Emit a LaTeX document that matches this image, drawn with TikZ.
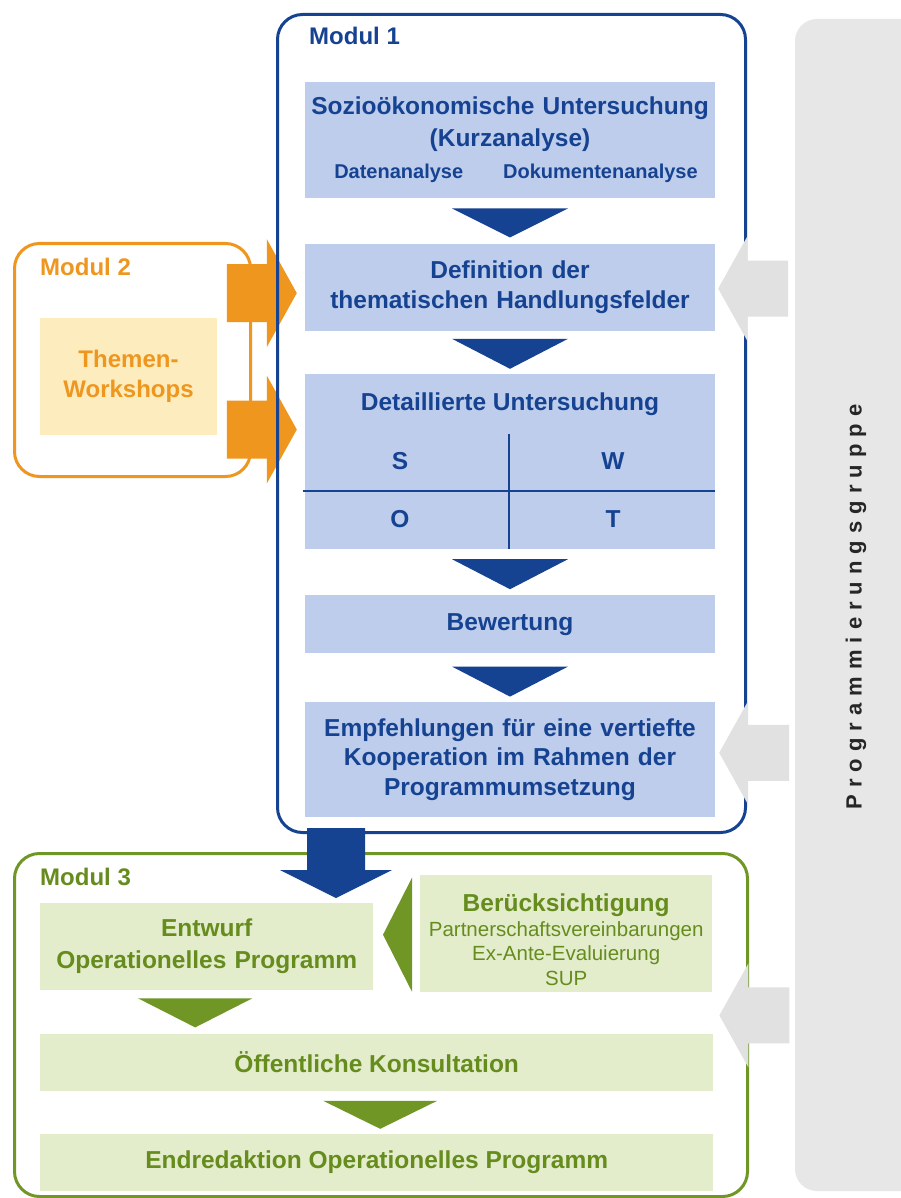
\documentclass[tikz,border=0pt]{standalone}
\usepackage{fontspec}
\setmainfont{Liberation Sans}
\usetikzlibrary{positioning, calc}
\definecolor{navy}{RGB}{22,66,146}
\definecolor{navysoft}{RGB}{190,205,235}
\definecolor{amber}{RGB}{238,150,30}
\definecolor{ambersoft}{RGB}{252,236,190}
\definecolor{leaf}{RGB}{112,150,38}
\definecolor{leafink}{RGB}{102,140,30}
\definecolor{leafsoft}{RGB}{227,237,203}
\definecolor{panelgray}{RGB}{231,231,231}
\definecolor{arrowgray}{RGB}{225,225,225}
\definecolor{inkdark}{RGB}{38,38,38}

\begin{document}
\begin{tikzpicture}[
  x=1pt, y=1pt,
  bluebox/.style={fill=navysoft, text=navy, minimum width=410pt, text width=405pt,
    align=center, inner sep=0pt, font=\fontsize{24.5}{30}\selectfont\bfseries},
  swotlbl/.style={text=navy, inner sep=0pt, font=\fontsize{24.5}{30}\selectfont\bfseries},
  greenbox/.style={fill=leafsoft, text=leafink, align=center, inner sep=0pt,
    font=\fontsize{24.5}{32}\selectfont\bfseries},
  themebox/.style={fill=ambersoft, text=amber, align=center, inner sep=0pt,
    minimum width=177pt, minimum height=117pt, font=\fontsize{24}{30}\selectfont\bfseries},
  modframe/.style={draw, rectangle, rounded corners=25pt, line width=3pt,
    anchor=north west, inner sep=0pt},
  modlbl/.style={anchor=base west, inner sep=0pt, font=\fontsize{24}{28}\selectfont\bfseries},
  panel/.style={fill=panelgray, rounded corners=22pt, minimum width=140pt,
    minimum height=1172pt, inner sep=0pt},
  proglbl/.style={text=inkdark, inner sep=0pt,
    font=\fontsize{22}{26}\selectfont\bfseries\addfontfeature{LetterSpace=32}},
  chev/.style={fill=navy},
  leaftri/.style={fill=leaf},
  orarr/.style={fill=amber},
  grayarr/.style={fill=arrowgray}
]
  \path[use as bounding box, fill=white] (0,0) rectangle (901,-1198);

  % side panel
  \node[panel] (prog) at (865,-605) {};
  \node[proglbl, rotate=90] (progtext) at (856,-607) {Programmierungsgruppe};

  % module 1 stack
  \node[bluebox, minimum height=116pt, anchor=north,
    font=\fontsize{24.5}{32}\selectfont\bfseries] (sozio) at (510,-82)
    {Sozioökonomische Untersuchung\\(Kurzanalyse)\\{\fontsize{20}{24}\selectfont\hspace*{12pt}Datenanalyse\hspace{40pt}Dokumentenanalyse}};
  \node[bluebox, minimum height=87pt, below=45pt of sozio] (defin)
    {Definition der\\thematischen Handlungsfelder};
  \node[bluebox, minimum height=175pt, below=43pt of defin] (swot) {};
  \node[bluebox, minimum height=58pt, below=46pt of swot] (bew) {Bewertung};
  \node[bluebox, minimum height=115pt, below=48pt of bew,
    font=\fontsize{24.5}{29.5}\selectfont\bfseries] (empf)
    {Empfehlungen für eine vertiefte\\Kooperation im Rahmen der\\Programmumsetzung};

  % swot grid
  \node[swotlbl] (swothead) at ($(swot.north)+(0,-30)$) {Detaillierte Untersuchung};
  \node[swotlbl] (sw-s) at ($(swot.north)+(-110,-87)$) {S};
  \node[swotlbl] (sw-w) at ($(swot.north)+(103,-87)$) {W};
  \node[swotlbl] (sw-o) at ($(swot.north)+(-110,-145)$) {O};
  \node[swotlbl] (sw-t) at ($(swot.north)+(103,-145)$) {T};
  \draw[navy, line width=1.8pt] ($(swot.west)+(-2,-29.5)$) -- ($(swot.east)+(0,-29.5)$);
  \draw[navy, line width=1.8pt] ($(swot.south)+(-1,0)$) -- ($(swot.south)+(-1,115)$);

  % module 2
  \node[themebox] (themen) at (128.5,-376.5) {Themen-\\Workshops};

  % module 3
  \node[greenbox, minimum width=333pt, minimum height=87pt, text width=330pt,
    anchor=north west] (entw) at (40,-903) {Entwurf\\Operationelles Programm};
  \node[greenbox, minimum width=292pt, minimum height=117pt, text width=290pt,
    anchor=north west, font=\fontsize{20.5}{24.5}\selectfont] (berueck) at (420,-875)
    {\rule{0pt}{30pt}{\fontsize{24.5}{24.5}\selectfont\bfseries Berücksichtigung}\\Partnerschaftsvereinbarungen\\Ex-Ante-Evaluierung\\SUP};
  \node[greenbox, minimum width=673pt, minimum height=57pt,
    below=43pt of entw.south west, anchor=north west] (oeff) {Öffentliche Konsultation};
  \node[greenbox, minimum width=673pt, minimum height=57pt, below=43pt of oeff] (endred)
    {Endredaktion Operationelles Programm};

  % input from module 2
  \coordinate (o1) at ($(defin.west)+(-8,-6)$);
  \coordinate (o2) at ($(swot.west)+(-8,32)$);
  \fill[orarr] (o1) -- ++(-30,54) -- ++(0,-25) -- ++(-40,0) -- ++(0,-58) -- ++(40,0) -- ++(0,-25) -- cycle;
  \fill[orarr] (o2) -- ++(-30,54) -- ++(0,-25) -- ++(-40,0) -- ++(0,-58) -- ++(40,0) -- ++(0,-25) -- cycle;

  % module frames
  \node[modframe, navy, minimum width=468pt, minimum height=818pt] (mod1) at (276,-13) {};
  \node[modframe, amber, minimum width=236pt, minimum height=233pt] (mod2) at (13,-242) {};
  \node[modframe, leaf, minimum width=733pt, minimum height=343pt] (mod3) at (13,-852) {};
  \node[modlbl, text=navy] (lbl1) at ($(mod1.north west)+(33,-32)$) {Modul 1};
  \node[modlbl, text=amber] (lbl2) at ($(mod2.north west)+(27,-33)$) {Modul 2};
  \node[modlbl, text=leafink] (lbl3) at ($(mod3.north west)+(27,-33)$) {Modul 3};

  % feedback from the group
  \coordinate (g1) at ($(defin.east)+(3,-1.5)$);
  \coordinate (g2) at ($(empf.east)+(4,6.5)$);
  \coordinate (g3) at ($(oeff.north east)+(6,18)$);
  \fill[grayarr] (g1) -- ++(29,52) -- ++(0,-24) -- ++(41,0) -- ++(0,-56) -- ++(-41,0) -- ++(0,-24) -- cycle;
  \fill[grayarr] (g2) -- ++(29,52) -- ++(0,-24) -- ++(41,0) -- ++(0,-56) -- ++(-41,0) -- ++(0,-24) -- cycle;
  \fill[grayarr] (g3) -- ++(29,52) -- ++(0,-24) -- ++(41,0) -- ++(0,-56) -- ++(-41,0) -- ++(0,-24) -- cycle;

  % module 1 into module 3
  \coordinate (drop) at ($(mod1.south west)+(60,-64)$);
  \fill[chev] (drop) -- ++(56,28) -- ++(-27,0) -- ++(0,42) -- ++(-58,0) -- ++(0,-42) -- ++(-27,0) -- cycle;

  % step markers
  \fill[chev] ($(sozio.south)+(-58,-10)$) -- ++(116,0) -- ($(defin.north)+(0,6)$) -- cycle;
  \fill[chev] ($(defin.south)+(-58,-8)$) -- ++(116,0) -- ($(swot.north)+(0,5)$) -- cycle;
  \fill[chev] ($(swot.south)+(-58,-10)$) -- ++(116,0) -- ($(bew.north)+(0,6)$) -- cycle;
  \fill[chev] ($(bew.south)+(-58,-13)$) -- ++(116,0) -- ($(empf.north)+(0,5)$) -- cycle;
  \fill[leaftri] ($(berueck.west)+(-37,-1)$) -- ($(berueck.west)+(-8,56)$) -- ($(berueck.west)+(-8,-58)$) -- cycle;
  \fill[leaftri] ($(entw.south)+(-68.5,-8)$) -- ++(114,0) -- ($(entw.south)+(-11.5,-37)$) -- cycle;
  \fill[leaftri] ($(oeff.south)+(-53.5,-10)$) -- ++(114,0) -- ($(oeff.south)+(3.5,-38)$) -- cycle;
\end{tikzpicture}
\end{document}
